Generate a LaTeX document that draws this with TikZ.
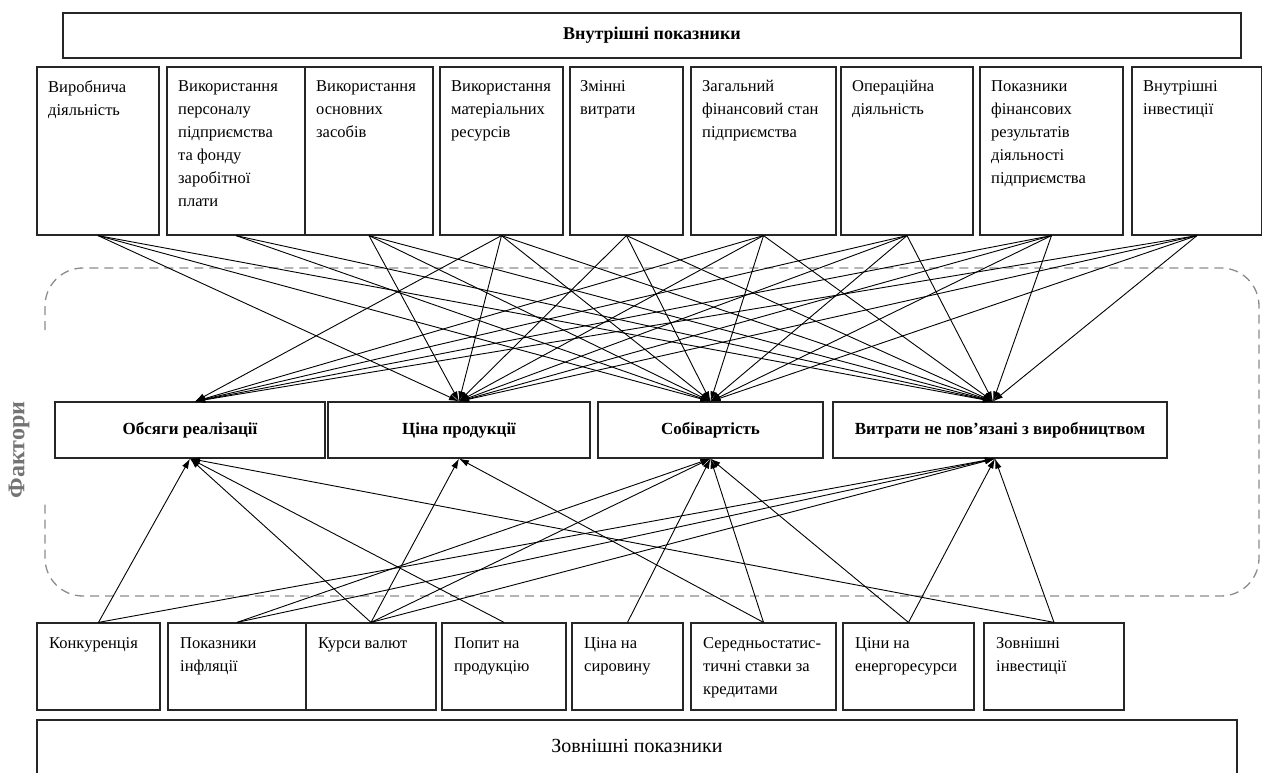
\documentclass[tikz,border=0pt]{standalone}
\usepackage{fontspec}
\setmainfont{Liberation Serif}
\usetikzlibrary{arrows.meta}
\newcommand{\mkbox}[5]{%
  \node[box, minimum width={#4-#2}, minimum height={#5-#3}] (#1) at ({(#2+#4)/2},{(#3+#5)/2}) {};}
\begin{document}
\begin{tikzpicture}[x=1pt,y=-1pt,
  box/.style={draw=black!85, line width=1.2pt, inner sep=0pt, fill=none},
  txt/.style={inner sep=0pt, anchor=north west, align=left, font=\fontsize{16.5}{23}\selectfont},
  mtxt/.style={font=\fontsize{17}{20}\selectfont\bfseries},
  con/.style={line width=0.9pt, -{Latex[length=10pt,width=6.5pt]}},
  frame/.style={draw=black!45, line width=1.3pt, dash pattern=on 9pt off 6pt, rounded corners=38pt}
]
\useasboundingbox (0,0) rectangle (1262,773);

% dashed frame
\draw[frame] (45,330) -- (45,268) -- (1259,268) -- (1259,596) -- (45,596) -- (45,500);
\node[rotate=90, inner sep=0pt, font=\fontsize{24}{28}\selectfont\bfseries, text=black!55] (flab) at (19,450) {Фактори};

% header boxes
\node[box, minimum width=1178, minimum height=45, font=\fontsize{18}{22}\selectfont\bfseries] (hin) at (652,35.5) {Внутрішні показники};
\mkbox{hout}{37}{720}{1237}{800}
\node[inner sep=0pt, font=\fontsize{20}{24}\selectfont] (houtt) at (637,746) {Зовнішні показники};

% top boxes
\mkbox{t1}{37}{67}{159}{235}
\mkbox{t2}{167}{67}{305}{235}
\mkbox{t3}{305}{67}{433}{235}
\mkbox{t4}{440}{67}{563}{235}
\mkbox{t5}{570}{67}{683}{235}
\mkbox{t6}{691}{67}{836}{235}
\mkbox{t7}{841}{67}{973}{235}
\mkbox{t8}{980}{67}{1123}{235}
\mkbox{t9}{1132}{67}{1262}{235}
\node[txt] (t1t) at (48,80) {Виробнича\\діяльність};
\node[txt] (t2t) at (178,80) {Використання\\персоналу\\підприємства\\та фонду\\заробітної\\плати};
\node[txt] (t3t) at (316,80) {Використання\\основних\\засобів};
\node[txt] (t4t) at (451,80) {Використання\\матеріальних\\ресурсів};
\node[txt] (t5t) at (580,80) {Змінні\\витрати};
\node[txt] (t6t) at (702,80) {Загальний\\фінансовий стан\\підприємства};
\node[txt] (t7t) at (852,80) {Операційна\\діяльність};
\node[txt] (t8t) at (991,80) {Показники\\фінансових\\результатів\\діяльності\\підприємства};
\node[txt] (t9t) at (1143,80) {Внутрішні\\інвестиції};

% middle boxes
\node[box, mtxt, minimum width=270, minimum height=56] (m1) at (190,430) {Обсяги реалізації};
\node[box, mtxt, minimum width=262, minimum height=56] (m2) at (459,430) {Ціна продукції};
\node[box, mtxt, minimum width=225, minimum height=56] (m3) at (710.5,430) {Собівартість};
\node[box, mtxt, minimum width=334, minimum height=56] (m4) at (1000,430) {Витрати не пов’язані з виробництвом};
\coordinate (m1n) at ([xshift=5pt]m1.north);
\coordinate (m2n) at (m2.north);
\coordinate (m3n) at (m3.north);
\coordinate (m4n) at ([xshift=-7pt]m4.north);
\coordinate (m1s) at (m1.south);
\coordinate (m2s) at (m2.south);
\coordinate (m3s) at (m3.south);
\coordinate (m4s) at ([xshift=-5pt]m4.south);

% bottom boxes
\mkbox{b1}{37}{623}{160}{710}
\mkbox{b2}{168}{623}{306}{710}
\mkbox{b3}{306}{623}{436}{710}
\mkbox{b4}{442}{623}{566}{710}
\mkbox{b5}{572}{623}{683}{710}
\mkbox{b6}{691}{623}{836}{710}
\mkbox{b7}{843}{623}{974}{710}
\mkbox{b8}{984}{623}{1124}{710}
\node[txt] (b1t) at (49,637) {Конкуренція};
\node[txt] (b2t) at (180,637) {Показники\\інфляції};
\node[txt] (b3t) at (318,637) {Курси валют};
\node[txt] (b4t) at (454,637) {Попит на\\продукцію};
\node[txt] (b5t) at (584,637) {Ціна на\\сировину};
\node[txt] (b6t) at (703,637) {Середньостатис-\\тичні ставки за\\кредитами};
\node[txt] (b7t) at (855,637) {Ціни на\\енергоресурси};
\node[txt] (b8t) at (996,637) {Зовнішні\\інвестиції};

% connectors from internal indicators
\foreach \s/\t in {t1/m2,t1/m3,t1/m4,
                   t2/m3,t2/m4,
                   t3/m2,t3/m3,t3/m4,
                   t4/m1,t4/m2,t4/m3,t4/m4,
                   t5/m2,t5/m3,t5/m4,
                   t6/m1,t6/m2,t6/m3,t6/m4,
                   t7/m1,t7/m2,t7/m3,t7/m4,
                   t8/m1,t8/m2,t8/m3,t8/m4,
                   t9/m1,t9/m2,t9/m3,t9/m4}
  \draw[con] (\s.south) -- (\t n);

% connectors from external indicators
\foreach \s/\t in {b1/m1,b1/m4,
                   b2/m3,b2/m4,
                   b3/m1,b3/m2,b3/m3,b3/m4,
                   b4/m1,
                   b5/m3,
                   b6/m2,b6/m3,
                   b7/m3,b7/m4,
                   b8/m1,b8/m4}
  \draw[con] (\s.north) -- (\t s);
\end{tikzpicture}
\end{document}
